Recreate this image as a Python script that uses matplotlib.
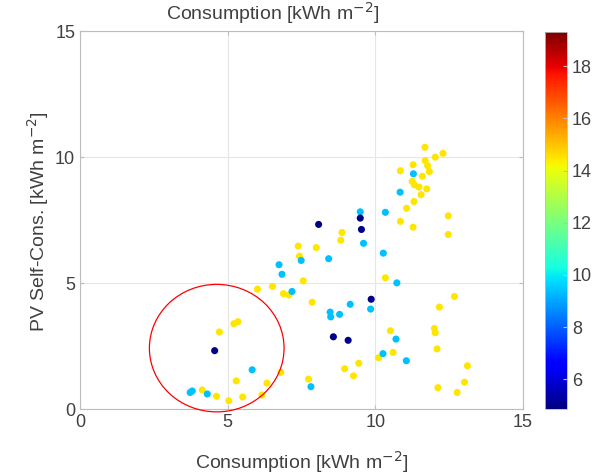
import matplotlib
matplotlib.use("Agg")
import matplotlib.pyplot as plt
from matplotlib.patches import Ellipse
import numpy as np

plt.rcParams['font.family'] = ['Liberation Sans', 'DejaVu Sans']

# Yellow points (~14.5)
yx = [7.39, 8.00, 7.43, 7.56, 6.01, 6.52, 6.89, 7.08, 7.86, 5.21, 5.35, 4.72, 6.80, 7.74,
      5.29, 6.33, 4.14, 4.62, 5.04, 5.51, 6.16, 11.68, 12.29, 12.03, 11.69, 11.28, 11.77,
      11.83, 10.85, 11.59, 11.25, 11.32, 11.48, 11.74, 11.55, 11.31, 11.06, 12.47, 10.85,
      11.28, 12.47, 8.87, 8.83, 10.34, 12.68, 12.17, 10.51, 12.00, 12.03, 12.09, 10.60,
      10.11, 9.44, 8.96, 13.12, 9.26, 13.02, 12.12, 12.77]
yy = [6.48, 6.42, 6.08, 5.10, 4.77, 4.88, 4.59, 4.54, 4.25, 3.40, 3.48, 3.07, 1.47, 1.20,
      1.13, 1.04, 0.77, 0.52, 0.34, 0.49, 0.57, 10.40, 10.16, 10.01, 9.87, 9.71, 9.67,
      9.44, 9.47, 9.25, 9.05, 8.91, 8.82, 8.75, 8.52, 8.25, 7.98, 7.68, 7.46,
      7.23, 6.94, 7.02, 6.71, 5.22, 4.48, 4.06, 3.12, 3.21, 3.04, 2.40, 2.26,
      2.05, 1.83, 1.61, 1.73, 1.33, 1.08, 0.86, 0.67]
# Cyan points (~9.4)
cx = [7.49, 6.74, 6.84, 7.18, 5.83, 7.82, 3.73, 3.80, 4.31, 11.29, 10.84, 10.34, 9.49,
      9.60, 10.27, 8.42, 10.73, 9.15, 9.84, 8.47, 8.49, 8.79, 10.70, 10.26, 11.05]
cy = [5.91, 5.74, 5.36, 4.68, 1.57, 0.90, 0.67, 0.73, 0.61, 9.35, 8.62, 7.82, 7.84,
      6.59, 6.20, 5.98, 5.02, 4.17, 3.98, 3.86, 3.67, 3.77, 2.79, 2.21, 1.93]
# Navy points (~5)
nx = [8.08, 9.49, 9.53, 9.86, 4.56, 8.58, 9.08]
ny = [7.34, 7.59, 7.14, 4.37, 2.33, 2.88, 2.74]

val_yellow = 14.5
val_cyan = 9.4
val_navy = 5.0

xticks = [0, 5, 10, 15]
yticks = [0, 5, 10, 15]
cticks = [6, 8, 10, 12, 14, 16, 18]

x = np.array(yx + cx + nx)
y = np.array(yy + cy + ny)
c = np.array([val_yellow] * len(yx) + [val_cyan] * len(cx) + [val_navy] * len(nx))

txt = '#404040'
fig = plt.figure(figsize=(5.97, 4.76), dpi=100)
ax = fig.add_axes([0.134, 0.140, 0.742, 0.794])
sc = ax.scatter(x, y, c=c, cmap='jet', vmin=4.85, vmax=19.3, s=26, linewidths=0, zorder=3)
ax.set_xlim(0, 15)
ax.set_ylim(0, 15)
ax.set_xticks(xticks)
ax.set_yticks(yticks)
ax.grid(True, color='#e6e6e6', linewidth=0.8, zorder=0)
ax.set_axisbelow(True)
for s in ax.spines.values():
    s.set_color('#bdbdbd')
    s.set_linewidth(0.8)
ax.tick_params(direction='in', length=3, colors='#bdbdbd', labelcolor=txt, labelsize=13,
               top=True, right=True)

ell = Ellipse((4.63, 2.43), width=4.56, height=5.06, fill=False, edgecolor='red',
              linewidth=0.9, clip_on=False, zorder=4)
ax.add_patch(ell)

fig.text(0.506, 0.029, 'Consumption [kWh m$^{-2}$]', ha='center', va='center',
         fontsize=14, color=txt)
fig.text(0.456, 0.973, 'Consumption [kWh m$^{-2}$]', ha='center', va='center',
         fontsize=14, color=txt)
fig.text(0.063, 0.535, 'PV Self-Cons. [kWh m$^{-2}$]', ha='center', va='center',
         rotation=90, fontsize=14, color=txt)

cax = fig.add_axes([0.913, 0.140, 0.037, 0.792])
cb = fig.colorbar(sc, cax=cax, ticks=cticks)
cb.outline.set_edgecolor('#bdbdbd')
cb.outline.set_linewidth(0.6)
cax.tick_params(direction='in', length=3, colors='#bdbdbd', labelcolor=txt, labelsize=13)

fig.savefig('out.png', dpi=100)
